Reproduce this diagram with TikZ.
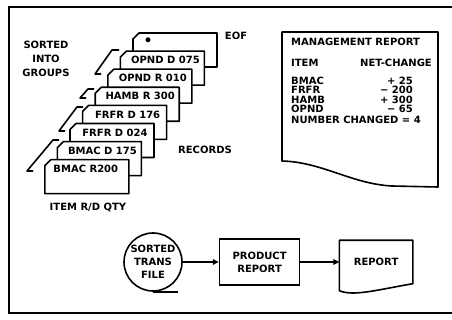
\documentclass[tikz,border=0pt]{standalone}
\usepackage{fontspec}
\setmainfont{DejaVu Sans}
\usetikzlibrary{arrows.meta,positioning,calc}
\newcommand{\bigcaps}{\bfseries\fontsize{10}{14}\selectfont}
\tikzset{
  cardedge/.style={draw=black,fill=white,line width=1.6pt,line join=round},
  cardtext/.style={font=\bigcaps,inner sep=0pt,text height=7.3pt,text depth=0pt},
  lbl/.style={font=\bigcaps,align=center,inner sep=0pt},
  tape/.style={circle,draw,line width=1.6pt,minimum size=58pt,inner sep=0pt,align=center,font=\bfseries\fontsize{10}{13}\selectfont},
  procbox/.style={rectangle,draw,line width=1.6pt,minimum width=80pt,minimum height=46pt,align=center,font=\bfseries\fontsize{10}{13}\selectfont},
  docbox/.style={rectangle,minimum width=73pt,minimum height=43pt,align=center,font=\bigcaps},
  docedge/.style={draw,line width=1.6pt,line join=round},
  grouptick/.style={line width=1.6pt,line join=round},
  arrow/.style={-{Triangle[length=6pt,width=5.5pt]},line width=1.6pt}
}

\begin{document}
\begin{tikzpicture}[x=1pt,y=-1pt]
  \useasboundingbox (0,0) rectangle (452,320);
  % frame
  \draw[line width=2pt] (452,7) -- (9,7) -- (9,313) -- (452,313);

  % cards, back to front
  \foreach \i/\txt/\dx in {0/{}/44,1/OPND D 075/45,2/OPND R 010/45,3/HAMB R 300/45,4/FRFR D 176/45,5/FRFR D 024/45,6/BMAC D 175/45,7/BMAC R200/41} {
    \pgfmathsetmacro\lx{133-12.6*\i}
    \pgfmathsetmacro\ty{33+18.1*\i}
    \draw[cardedge] (\lx+6,\ty) -- (\lx+84,\ty) -- (\lx+84,\ty+34) -- (\lx,\ty+34) -- (\lx,\ty+6) -- cycle;
    \node[cardtext] (card\i) at (\lx+\dx,\ty+9) {\txt};
  }
  \node[font=\bfseries\fontsize{14}{14}\selectfont,inner sep=0pt] (eofmark) at (148,42) {•};

  % group marks
  \draw[grouptick] (119,50) -- (112,50) -- (95,74) -- (101,74);
  \draw[grouptick] (94,89) -- (88,89) -- (80,98) -- (86,98);
  \draw[grouptick] (83,107) -- (77,107) -- (59,131) -- (65,131);
  \draw[grouptick] (59,140) -- (53,140) -- (27,171) -- (33,171);

  \node[lbl] (sorted) at (46,59) {SORTED\\INTO\\GROUPS};
  \node[lbl] (eof) at (236,36) {EOF};
  \node[lbl] (records) at (205,150) {RECORDS};
  \node[cardtext] (fields) at (88,207) {ITEM R/D QTY};

  % management report
  \draw[docedge] (282,32) -- (438,32) -- (438,187) -- (392,186)
    .. controls (352,184) and (322,162) .. (282,161) -- cycle;
  \node[cardtext,anchor=west] (mgmt) at (291,42) {MANAGEMENT REPORT};
  \node[cardtext,anchor=west] (itemhead) at (291,63) {ITEM};
  \node[cardtext,anchor=east] (nethead) at (432,63) {NET-CHANGE};
  \foreach \y/\item/\val in {81/BMAC/+ 25,90/FRFR/− 200,99.5/HAMB/+ 300,108.5/OPND/− 65} {
    \node[cardtext,anchor=west] (item\item) at (291,\y) {\item};
    \node[cardtext,anchor=east] (val\item) at (413,\y) {\val};
  }
  \node[cardtext,anchor=west] (changed) at (291,120) {NUMBER CHANGED = 4};

  % run
  \node[tape] (trans) at (153,262) {SORTED\\TRANS\\FILE};
  \draw[line width=1.6pt] (trans.south) -- ++(25,0);
  \node[procbox,right=36pt of trans] (product) {PRODUCT\\REPORT};
  \node[docbox,right=39pt of product] (report) {REPORT};
  \draw[docedge] (report.north west) -- (report.north east) -- (report.south east)
    .. controls +(-35,6) and +(14,6) .. ($(report.south west)+(0,7)$) -- cycle;
  \draw[arrow] (trans) -- (product);
  \draw[arrow] (product) -- (report);
\end{tikzpicture}
\end{document}
